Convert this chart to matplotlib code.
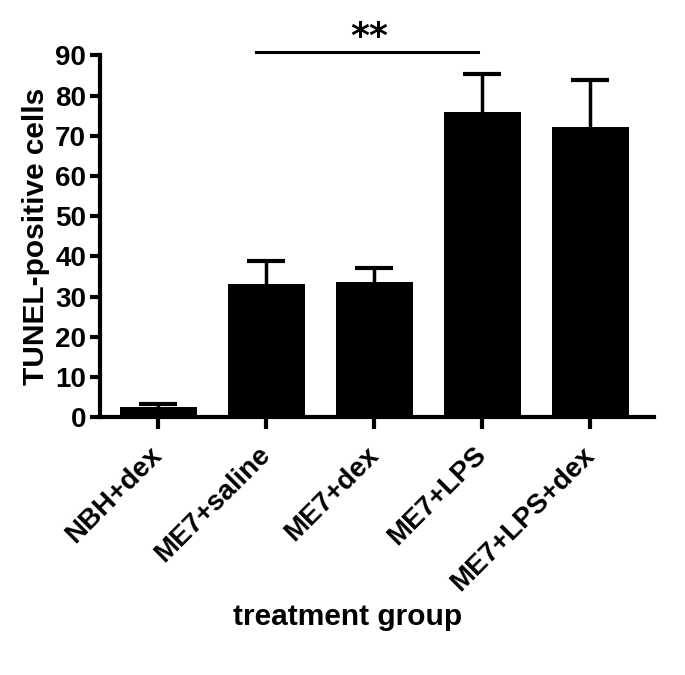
import numpy as np
import matplotlib
matplotlib.use('Agg')
import matplotlib.pyplot as plt

# data
groups = ['NBH+dex', 'ME7+saline', 'ME7+dex', 'ME7+LPS', 'ME7+LPS+dex']
means = [2.6, 33.0, 33.5, 75.8, 72.2]
sem = [0.7, 5.8, 3.6, 9.6, 11.6]

plt.rcParams['font.family'] = ['Liberation Sans', 'DejaVu Sans']
plt.rcParams['font.weight'] = 'bold'

fig = plt.figure(figsize=(6.85, 6.75), dpi=100)
ax = fig.add_axes([0.146, 0.382, 0.809, 0.536])

x = np.arange(len(groups))
ax.bar(x, means, width=0.71, color='black', zorder=2)
eb = ax.errorbar(x, means, yerr=[np.zeros(len(sem)), sem], fmt='none',
                 ecolor='black', elinewidth=2.5, capsize=14, capthick=3, zorder=1)
# only the upper cap is shown
eb[1][0].set_visible(False)

ax.set_xlim(-0.54, 4.59)
ax.set_ylim(0, 90)
ax.set_yticks(range(0, 91, 10))
ax.set_xticks(x)
ax.set_xticklabels(groups, rotation=45, ha='right', va='center',
                   rotation_mode='anchor')

for s in ['top', 'right']:
    ax.spines[s].set_visible(False)
for s in ['left', 'bottom']:
    ax.spines[s].set_linewidth(3)
ax.tick_params(width=3, length=7, labelsize=20, pad=3)
ax.tick_params(axis='x', length=8.5, pad=16)

ax.set_ylabel('TUNEL-positive cells', fontsize=21.5, fontweight='bold', labelpad=4)
ax.set_xlabel('treatment group', fontsize=21.5, fontweight='bold')
ax.xaxis.set_label_coords(0.446, -0.515)

# significance bar
ax.plot([0.9, 2.96], [90.9, 90.9], color='black', lw=2.2, clip_on=False)
ax.text(1.95, 94.6, '**', ha='center', va='center', fontsize=26,
        fontweight='bold', family='DejaVu Sans')

plt.savefig('out.png')
